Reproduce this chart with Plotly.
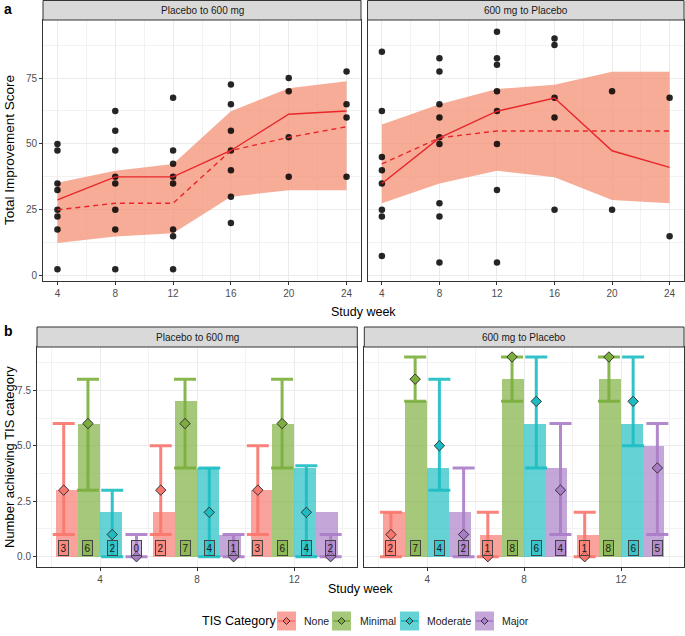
import plotly.graph_objects as go

W, H = 685, 636

# ---------------- Panel a data ----------------
weeks_a = [4, 8, 12, 16, 20, 24]
# individual scores per week, panel "Placebo to 600 mg"
pts_p2d = {
    4: [50, 47.5, 35, 32.5, 25, 22.5, 17.5, 2.5],
    8: [62.5, 55, 47.5, 37.5, 35, 25, 17.5, 2.5],
    12: [67.5, 47.5, 42.5, 37.5, 35, 17.5, 15, 2.5],
    16: [72.5, 65, 55, 47.5, 40, 30, 20],
    20: [75, 70, 52.5, 37.5],
    24: [77.5, 65, 60, 37.5],
}
pts_d2p = {
    4: [85, 62.5, 45, 40, 35, 25, 22.5, 7.5],
    8: [82.5, 77.5, 65, 60, 52.5, 50, 27.5, 22.5, 5],
    12: [92.5, 82.5, 80, 70, 62.5, 50, 32.5, 5],
    16: [90, 87.5, 67.5, 60, 25],
    20: [70, 25],
    24: [67.5, 15],
}
solid_p2d = [28.75, 37.5, 37.5, 47.5, 61.25, 62.5]
dashed_p2d = [25, 27.5, 27.5, 47.5, 52.5, 56.5]
upper_p2d = [35.3, 39.8, 42.4, 62.4, 71.1, 73.8]
lower_p2d = [12.4, 14.9, 16.1, 30.0, 32.4, 32.4]

solid_d2p = [35, 52.3, 62.4, 67.4, 47.4, 41.1]
dashed_d2p = [42.4, 52.3, 54.9, 54.9, 54.9, 54.9]
upper_d2p = [57.4, 65.0, 70.8, 72.4, 77.4, 77.4]
lower_d2p = [27.5, 35.0, 39.8, 37.4, 28.7, 27.5]

# ---------------- Panel b data ----------------
weeks_b = [4, 8, 12]
cats = ["None", "Minimal", "Moderate", "Major"]
cnt_p2d = {"None": [3, 2, 3], "Minimal": [6, 7, 6], "Moderate": [2, 4, 4], "Major": [0, 1, 2]}
mid_p2d = {"None": [3, 3, 3], "Minimal": [6, 6, 6], "Moderate": [1, 2, 2], "Major": [0, 0, 0]}
lo_p2d = {"None": [1, 1, 1], "Minimal": [3, 4, 4], "Moderate": [0, 0, 0], "Major": [0, 0, 0]}
hi_p2d = {"None": [6, 5, 5], "Minimal": [8, 8, 8], "Moderate": [3, 4, 4.1], "Major": [1, 1, 1]}

cnt_d2p = {"None": [2, 1, 1], "Minimal": [7, 8, 8], "Moderate": [4, 6, 6], "Major": [2, 4, 5]}
mid_d2p = {"None": [1, 0, 0], "Minimal": [8, 9, 9], "Moderate": [5, 7, 7], "Major": [1, 3, 4]}
lo_d2p = {"None": [0, 0, 0], "Minimal": [7, 7, 7], "Moderate": [3, 4, 5], "Major": [0, 1, 1]}
hi_d2p = {"None": [2, 2, 2], "Minimal": [9, 9, 9], "Moderate": [8, 9, 9], "Major": [4, 6, 6]}

colors = {"None": (248, 118, 109), "Minimal": (123, 174, 60), "Moderate": (28, 189, 194), "Major": (169, 124, 198)}


def rgba(c, a):
    return f"rgba({c[0]},{c[1]},{c[2]},{a})"


fig = go.Figure()

FONT = "Liberation Sans, Arial, sans-serif"
RED = "#E8262B"
RIBBON = "rgba(243,140,110,0.72)"


def px_x(p):
    return p / W


def px_y(p):
    return 1 - p / H


# ---- panel a traces ----
for ax, pts, solid, dashed, up, lo in [
    ("1", pts_p2d, solid_p2d, dashed_p2d, upper_p2d, lower_p2d),
    ("2", pts_d2p, solid_d2p, dashed_d2p, upper_d2p, lower_d2p),
]:
    xa = "x" if ax == "1" else "x2"
    ya = "y" if ax == "1" else "y2"
    fig.add_trace(go.Scatter(x=weeks_a + weeks_a[::-1], y=up + lo[::-1], fill="toself",
                             fillcolor=RIBBON, line=dict(width=0), mode="lines",
                             hoverinfo="skip", showlegend=False, xaxis=xa, yaxis=ya))
    xs, ys = [], []
    for w in weeks_a:
        for v in pts[w]:
            xs.append(w)
            ys.append(v)
    fig.add_trace(go.Scatter(x=xs, y=ys, mode="markers",
                             marker=dict(color="rgba(0,0,0,0.85)", size=6.5),
                             showlegend=False, xaxis=xa, yaxis=ya))
    fig.add_trace(go.Scatter(x=weeks_a, y=solid, mode="lines", line=dict(color=RED, width=1.4),
                             showlegend=False, xaxis=xa, yaxis=ya))
    fig.add_trace(go.Scatter(x=weeks_a, y=dashed, mode="lines",
                             line=dict(color=RED, width=1.4, dash="5px,4px"),
                             showlegend=False, xaxis=xa, yaxis=ya))

# ---- panel b traces ----
annotations = []
for ax, cnt, mid, lo, hi in [
    ("3", cnt_p2d, mid_p2d, lo_p2d, hi_p2d),
    ("4", cnt_d2p, mid_d2p, lo_d2p, hi_d2p),
]:
    xa = "x" + ax
    ya = "y" + ax
    for i, c in enumerate(cats):
        col = colors[c]
        xb = [w + (i - 1.5) * 0.9 for w in weeks_b]
        fig.add_trace(go.Bar(x=xb, y=cnt[c], width=0.9, marker=dict(color=rgba(col, 0.68), line=dict(width=0)),
                             name=c, showlegend=False, xaxis=xa, yaxis=ya))
    for i, c in enumerate(cats):
        col = colors[c]
        xe = [w + (i - 1.5) * 1.0 for w in weeks_b]
        fig.add_trace(go.Scatter(
            x=xe, y=mid[c], mode="markers",
            marker=dict(symbol="diamond", size=8, color=rgba(col, 1), line=dict(color="#333333", width=1)),
            error_y=dict(type="data", symmetric=False,
                         array=[h - m for h, m in zip(hi[c], mid[c])],
                         arrayminus=[m - l for m, l in zip(mid[c], lo[c])],
                         color=rgba(col, 0.9), thickness=3, width=11),
            showlegend=False, xaxis=xa, yaxis=ya))
        for x, v in zip(xe, cnt[c]):
            annotations.append(dict(x=x, y=0.38, xref=xa, yref=ya, text=str(v), showarrow=False,
                                    xanchor="center", yanchor="middle",
                                    font=dict(size=10, color="#1A1A1A", family=FONT),
                                    bgcolor=rgba(col, 0.6), bordercolor="#444444", borderwidth=1,
                                    borderpad=1.5))

# ---- axes ----
common = dict(showline=True, mirror=True, linecolor="#333333", linewidth=1,
              ticks="outside", ticklen=3, tickcolor="#333333", tickwidth=1,
              gridcolor="#EBEBEB", gridwidth=1, zeroline=False,
              tickfont=dict(size=10, color="#4D4D4D", family=FONT))

dom_a1 = [px_x(43), px_x(361)]
dom_a2 = [px_x(367.5), px_x(684)]
dom_b1 = [px_x(37), px_x(357.3)]
dom_b2 = [px_x(364.3), px_x(684)]
ya_dom = [px_y(281), px_y(20)]
yb_dom = [px_y(566.7), px_y(347)]

xa_common = dict(common, range=[3, 25], tickvals=[4, 8, 12, 16, 20, 24],
                 minor=dict(dtick=2, tick0=0, showgrid=True, gridcolor="#F2F2F2", gridwidth=0.6, ticks=""))
ya_common = dict(common, range=[-2, 97], tickvals=[0, 25, 50, 75],
                 minor=dict(dtick=12.5, tick0=0, showgrid=True, gridcolor="#F2F2F2", gridwidth=0.6, ticks=""))
xb_common = dict(common, range=[1.4, 14.6], tickvals=[4, 8, 12],
                 minor=dict(dtick=2, tick0=0, showgrid=True, gridcolor="#F2F2F2", gridwidth=0.6, ticks=""))
yb_common = dict(common, range=[-0.45, 9.45], tickvals=[0, 2.5, 5, 7.5], tickformat=".1f",
                 minor=dict(dtick=1.25, tick0=0, showgrid=True, gridcolor="#F2F2F2", gridwidth=0.6, ticks=""))

fig.update_layout(
    xaxis=dict(xa_common, domain=dom_a1, anchor="y"),
    yaxis=dict(ya_common, domain=ya_dom, anchor="x"),
    xaxis2=dict(xa_common, domain=dom_a2, anchor="y2"),
    yaxis2=dict(ya_common, domain=ya_dom, anchor="x2", showticklabels=False, ticks=""),
    xaxis3=dict(xb_common, domain=dom_b1, anchor="y3"),
    yaxis3=dict(yb_common, domain=yb_dom, anchor="x3"),
    xaxis4=dict(xb_common, domain=dom_b2, anchor="y4"),
    yaxis4=dict(yb_common, domain=yb_dom, anchor="x4", showticklabels=False, ticks=""),
)


def ann(xp, yp, text, size, color="#000000", xanchor="center", angle=0):
    return dict(x=px_x(xp), y=px_y(yp), xref="paper", yref="paper", text=text, showarrow=False,
                xanchor=xanchor, yanchor="middle", textangle=angle,
                font=dict(size=size, color=color, family=FONT))


# ---- strips ----
shapes = []
strips = [
    ((43, 361), (0.5, 20), "Placebo to 600 mg"),
    ((367.5, 684), (0.5, 20), "600 mg to Placebo"),
    ((37, 357.3), (327, 347), "Placebo to 600 mg"),
    ((364.3, 684), (327, 347), "600 mg to Placebo"),
]
for (x0, x1), (y0, y1), txt in strips:
    shapes.append(dict(type="rect", xref="paper", yref="paper", x0=px_x(x0), x1=px_x(x1),
                       y0=px_y(y1), y1=px_y(y0),
                       fillcolor="#D9D9D9", line=dict(color="#333333", width=1), layer="above"))
    annotations.append(ann((x0 + x1) / 2, (y0 + y1) / 2, txt, 10, "#1A1A1A"))

# ---- titles / labels ----
annotations += [
    ann(363.5, 312, "Study week", 12.5),
    ann(360.5, 589, "Study week", 12.5),
    ann(9, 150, "Total Improvement Score", 13.5, angle=-90),
    ann(9, 457, "Number achieving TIS category", 13, angle=-90),
    ann(2, 9, "<b>a</b>", 14, xanchor="left"),
    ann(2, 331, "<b>b</b>", 14, xanchor="left"),
]

# ---- legend (drawn manually to match the ggplot guide) ----
LEG_Y = 621
annotations.append(ann(200, LEG_Y, "TIS Category", 12.5, xanchor="left"))
legend_keys = [(277, 302), (332, 358), (400, 425), (475, 500)]
for c, (kx, tx) in zip(cats, legend_keys):
    col = colors[c]
    shapes.append(dict(type="rect", xref="paper", yref="paper",
                       x0=px_x(kx), x1=px_x(kx + 19), y0=px_y(LEG_Y + 9.5), y1=px_y(LEG_Y - 9.5),
                       fillcolor=rgba(col, 0.68), line=dict(width=0)))
    shapes.append(dict(type="line", xref="paper", yref="paper",
                       x0=px_x(kx + 1), x1=px_x(kx + 18), y0=px_y(LEG_Y), y1=px_y(LEG_Y),
                       line=dict(color=rgba(col, 0.9), width=2)))
    cx = kx + 9.5
    d = 3.5
    path = (f"M {px_x(cx)},{px_y(LEG_Y - d)} L {px_x(cx + d)},{px_y(LEG_Y)} "
            f"L {px_x(cx)},{px_y(LEG_Y + d)} L {px_x(cx - d)},{px_y(LEG_Y)} Z")
    shapes.append(dict(type="path", xref="paper", yref="paper", path=path,
                       fillcolor=rgba(col, 1), line=dict(color="#333333", width=1)))
    annotations.append(ann(tx, LEG_Y, c, 10.5, "#1A1A1A", xanchor="left"))

fig.update_layout(
    width=W, height=H, margin=dict(l=0, r=0, t=0, b=0),
    paper_bgcolor="white", plot_bgcolor="white",
    barmode="overlay", bargap=0,
    font=dict(family=FONT),
    shapes=shapes, annotations=annotations,
    showlegend=False,
)

fig.write_html("out.html")
